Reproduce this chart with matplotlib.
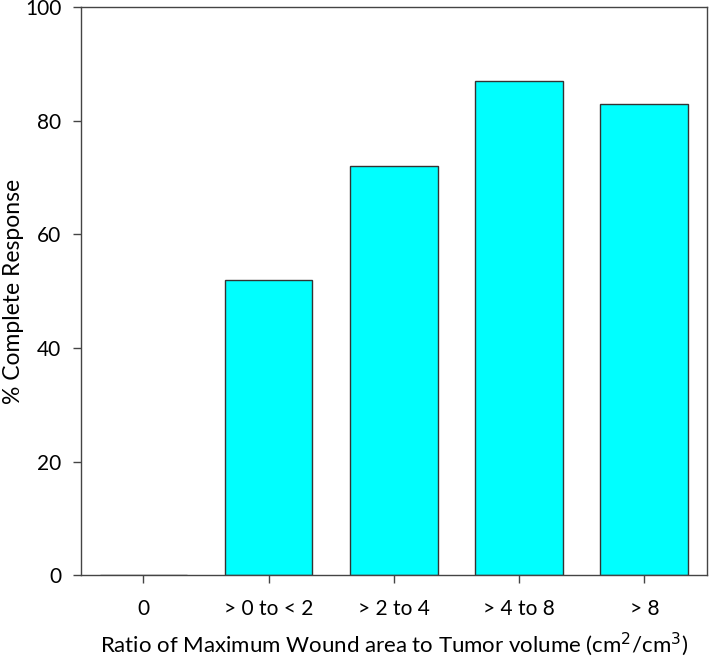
import matplotlib
matplotlib.use("Agg")
import matplotlib.pyplot as plt

plt.rcParams['font.family'] = ['Lato', 'DejaVu Sans']

# data
categories = ['0', '> 0 to < 2', '> 2 to 4', '> 4 to 8', '> 8']
complete_response = [0, 52, 72, 87, 83]

fig = plt.figure(figsize=(7.09, 6.62), dpi=100)
ax = fig.add_axes([0.114, 0.131, 0.883, 0.858])

x = range(len(categories))
ax.bar(x, complete_response, width=0.7, color='#00ffff', edgecolor='#333333', linewidth=1)

ax.set_xlim(-0.5, 4.5)
ax.set_ylim(0, 100)
ax.set_yticks([0, 20, 40, 60, 80, 100])
ax.set_xticks(list(x))
ax.set_xticklabels(categories)
ax.tick_params(axis='both', direction='out', length=6, width=1, colors='#444444',
               labelcolor='black', labelsize=15, pad=8)
ax.tick_params(axis='x', pad=11)

for s in ax.spines.values():
    s.set_color('#444444')
    s.set_linewidth(1)

ax.set_ylabel('% Complete Response', fontsize=16.5, va='center')
ax.yaxis.set_label_coords(-0.108, 0.5)
ax.set_xlabel('Ratio of Maximum Wound area to Tumor volume (cm$^2$/cm$^3$)', fontsize=16, va='center')
ax.xaxis.set_label_coords(0.5, -0.122)

plt.savefig('out.png', dpi=100)
